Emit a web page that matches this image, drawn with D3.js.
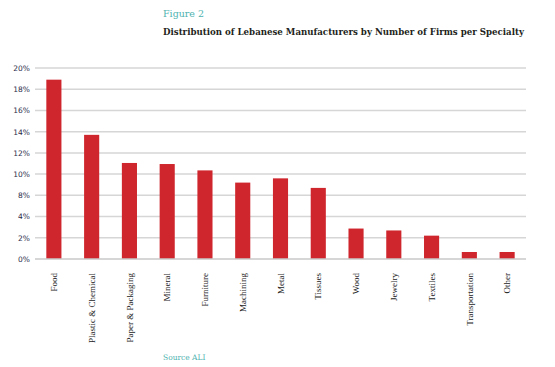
<!DOCTYPE html>
<html>
<head>
<meta charset="utf-8">
<script src="https://cdn.jsdelivr.net/npm/d3@7"></script>
<style>
  body { margin: 0; background: #fff; }
</style>
</head>
<body>
<div id="chart"></div>
<script>
const categories = ["Food", "Plastic & Chemical", "Paper & Packaging", "Mineral", "Furniture", "Machining",
    "Metal", "Tissues", "Wood", "Jewelry", "Textiles", "Transportation", "Other"];
const shares = [18.9, 13.7, 11.05, 10.95, 10.35, 9.2, 9.6, 8.7, 2.87, 2.69, 2.2, 0.66, 0.66];
// tick labels as printed in the source (6% is absent there)
const tickValues = [0, 2, 4, 8, 10, 12, 14, 16, 18, 20];

const width = 555, height = 367;
const margin = {top: 68, right: 29, bottom: 108, left: 35};
const innerW = width - margin.left - margin.right;
const innerH = height - margin.top - margin.bottom;

const svg = d3.select("#chart")
    .append("svg")
    .attr("width", width)
    .attr("height", height);

svg.append("text")
    .attr("x", 163).attr("y", 17)
    .style("font-family", "DejaVu Serif")
    .style("font-size", "9.5px")
    .style("fill", "#4fb3b0")
    .text("Figure 2");

svg.append("text")
    .attr("x", 163).attr("y", 35)
    .attr("textLength", 361)
    .attr("lengthAdjust", "spacingAndGlyphs")
    .style("font-family", "DejaVu Serif Condensed, DejaVu Serif")
    .style("font-weight", "bold")
    .style("font-size", "9.6px")
    .style("fill", "#231f20")
    .text("Distribution of Lebanese Manufacturers by Number of Firms per Specialty");

svg.append("text")
    .attr("x", 163).attr("y", 360)
    .style("font-family", "DejaVu Serif")
    .style("font-size", "7.5px")
    .style("fill", "#4fb3b0")
    .text("Source ALI");

const g = svg.append("g")
    .attr("transform", `translate(${margin.left},${margin.top})`);

const x = d3.scaleBand()
    .domain(categories)
    .range([0, innerW])
    .paddingInner(0.6)
    .paddingOuter(0.3);

const y = d3.scaleLinear()
    .domain(tickValues)
    .range(tickValues.map((d, i) => innerH - i * innerH / (tickValues.length - 1)));

// gridlines
g.append("g")
    .selectAll("line")
    .data(tickValues.slice(1))
    .join("line")
    .attr("x1", 0).attr("x2", innerW)
    .attr("y1", d => y(d)).attr("y2", d => y(d))
    .style("stroke", "#d6d6d6")
    .style("stroke-width", 1.5);

const yAxis = g.append("g")
    .call(d3.axisLeft(y).tickValues(tickValues).tickSize(0).tickPadding(5).tickFormat(d => d + "%"));
yAxis.select(".domain").remove();
yAxis.selectAll("text")
    .style("font-family", "DejaVu Sans")
    .style("font-size", "7.5px")
    .style("fill", "#2a2c4a");

g.selectAll("rect.bar")
    .data(categories)
    .join("rect")
    .attr("class", "bar")
    .attr("x", d => x(d))
    .attr("y", (d, i) => y(shares[i]))
    .attr("width", x.bandwidth())
    .attr("height", (d, i) => innerH - y(shares[i]))
    .style("fill", "#cf252c");

g.append("line")
    .attr("x1", 0).attr("x2", innerW)
    .attr("y1", innerH).attr("y2", innerH)
    .style("stroke", "#c8c8c8")
    .style("stroke-width", 1.5);

const xAxis = g.append("g")
    .attr("transform", `translate(0,${innerH})`)
    .call(d3.axisBottom(x).tickSize(0));
xAxis.select(".domain").remove();
xAxis.selectAll("text")
    .attr("transform", "rotate(-90)")
    .attr("x", -14)
    .attr("y", 0)
    .attr("dy", "0.35em")
    .style("text-anchor", "end")
    .style("font-family", "Liberation Serif")
    .style("font-size", "9px")
    .style("fill", "#1a1a1a");
</script>
</body>
</html>
